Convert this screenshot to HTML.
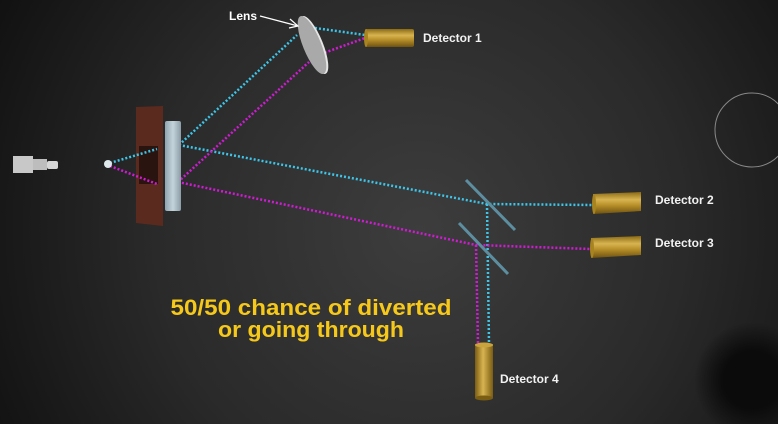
<!DOCTYPE html>
<html><head><meta charset="utf-8"><style>
html,body{margin:0;padding:0;width:778px;height:424px;overflow:hidden;background:#1a1a1a}
svg{display:block}
text{font-family:"Liberation Sans",sans-serif}
</style></head><body>
<svg width="778" height="424" viewBox="0 0 778 424" xmlns="http://www.w3.org/2000/svg">
<defs>
<radialGradient id="bg" cx="420" cy="230" r="480" gradientUnits="userSpaceOnUse">
<stop offset="0" stop-color="#3d3d3d"/><stop offset="0.55" stop-color="#2a2a2a"/><stop offset="1" stop-color="#111"/>
</radialGradient>
<linearGradient id="gold" x1="0" y1="0" x2="0" y2="1">
<stop offset="0" stop-color="#8a6a14"/><stop offset="0.35" stop-color="#d8b450"/><stop offset="0.6" stop-color="#b8902a"/><stop offset="1" stop-color="#6e5210"/>
</linearGradient>
<linearGradient id="goldv" x1="0" y1="0" x2="1" y2="0">
<stop offset="0" stop-color="#7a5c12"/><stop offset="0.45" stop-color="#d8b450"/><stop offset="1" stop-color="#7a5c12"/>
</linearGradient>
<linearGradient id="glass" x1="0" y1="0" x2="1" y2="0">
<stop offset="0" stop-color="#8fa4b0"/><stop offset="0.5" stop-color="#c4d4dc"/><stop offset="1" stop-color="#8a9ca6"/>
</linearGradient>
<radialGradient id="blob" cx="0.5" cy="0.5" r="0.5"><stop offset="0.5" stop-color="#0b0b0b"/><stop offset="1" stop-color="#0b0b0b" stop-opacity="0"/></radialGradient>
</defs>
<rect width="778" height="424" fill="url(#bg)"/>
<circle cx="752" cy="380" r="58" fill="url(#blob)"/>
<circle cx="752" cy="130" r="37" fill="none" stroke="#888" stroke-width="1"/>

<g>
<rect x="13" y="156" width="20" height="17" fill="#c8c8c8"/>
<rect x="33" y="159" width="14" height="11" fill="#bdbdbd"/>
<rect x="47" y="161" width="11" height="8" fill="#d6d6d6" rx="2"/>
</g>

<g>
<polygon points="136,107 163,106 163,226 136,223" fill="#5a2a1e"/>
<rect x="139" y="146" width="19" height="38" fill="#2a1410"/>
</g>

<g fill="none" stroke-width="2.5" stroke-dasharray="2 2">
<g stroke="#3bc6ea">
<polyline points="110,163 157,149"/>
<polyline points="179,145 297,35"/>
<polyline points="315,28 365,35"/>
<polyline points="179,145 487,204 592,205"/>
<polyline points="487,204 489,344"/>
</g>
<g stroke="#d21ad6">
<polyline points="110,166 157,184"/>
<polyline points="178,182 309,62"/>
<polyline points="321,54 365,38"/>
<polyline points="178,182 476,245 591,249"/>
<polyline points="476,245 478,343"/>
</g>
</g>

<rect x="165" y="121" width="16" height="90" rx="2" fill="url(#glass)"/>
<circle cx="108" cy="164" r="4" fill="#dfe9ec"/>

<g>
<ellipse cx="314" cy="45" rx="9" ry="31" transform="rotate(-22 314 45)" fill="#e6e6e6"/>
<ellipse cx="312" cy="45" rx="9" ry="31" transform="rotate(-22 312 45)" fill="#a9a9a9"/>
</g>
<text x="229" y="20" font-size="12" font-weight="bold" fill="#fff">Lens</text>
<g stroke="#fff" stroke-width="1.2" fill="none">
<line x1="260" y1="16" x2="298" y2="26"/><polyline points="290,19 298,26 289,28"/>
</g>

<line x1="466" y1="180" x2="515" y2="230" stroke="#5d8ea0" stroke-width="3"/>
<line x1="459" y1="223" x2="508" y2="274" stroke="#5d8ea0" stroke-width="3"/>

<g>
<rect x="365" y="29" width="49" height="18" rx="2" fill="url(#gold)"/>
<ellipse cx="366" cy="38" rx="2" ry="9" fill="#a88420"/>
</g>
<g>
<polygon points="593,194 641,192 641,211 593,214" fill="url(#gold)"/>
<ellipse cx="594" cy="204" rx="2" ry="10" fill="#a88420"/>
</g>
<g>
<polygon points="591,238 641,236 641,255 591,258" fill="url(#gold)"/>
<ellipse cx="592" cy="248" rx="2" ry="10" fill="#a88420"/>
</g>
<g>
<rect x="475" y="344" width="18" height="54" fill="url(#goldv)"/>
<ellipse cx="484" cy="345" rx="9" ry="2.5" fill="#c9a43c"/>
<ellipse cx="484" cy="398" rx="9" ry="2.5" fill="#7a5c12"/>
</g>

<g font-size="12" font-weight="bold" fill="#f2f2f2">
<text x="423" y="42">Detector 1</text>
<text x="655" y="204">Detector 2</text>
<text x="655" y="247">Detector 3</text>
<text x="500" y="383">Detector 4</text>
</g>

<g font-size="22" font-weight="bold" fill="#f5c81a" text-anchor="middle">
<text x="311" y="315" textLength="281" lengthAdjust="spacingAndGlyphs">50/50 chance of diverted</text>
<text x="311" y="337" textLength="186" lengthAdjust="spacingAndGlyphs">or going through</text>
</g>
</svg>
</body></html>
